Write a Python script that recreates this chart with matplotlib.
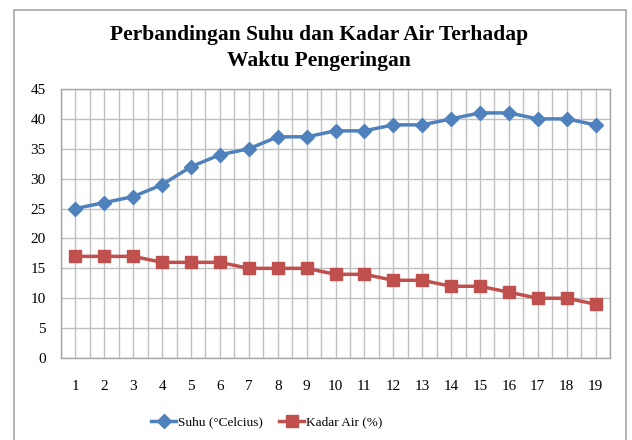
import matplotlib
matplotlib.use("Agg")
import matplotlib.pyplot as plt
from matplotlib.patches import Rectangle
import numpy as np

waktu = list(range(1, 20))
suhu = [25, 26, 27, 29, 32, 34, 35, 37, 37, 38, 38, 39, 39, 40, 41, 41, 40, 40, 39]
kadar_air = [17, 17, 17, 16, 16, 16, 15, 15, 15, 14, 14, 13, 13, 12, 12, 11, 10, 10, 9]
title = "Perbandingan Suhu dan Kadar Air Terhadap\nWaktu Pengeringan"
label_suhu = "Suhu (°Celcius)"
label_kadar = "Kadar Air (%)"

plt.rcParams['font.family'] = ['Liberation Serif', 'DejaVu Serif']

W, H = 632, 440
fig = plt.figure(figsize=(W / 100, H / 100), dpi=100)
fig.patch.set_facecolor('white')

# outer chart border
fig.patches.append(Rectangle((14 / W, -0.05), (626 - 14) / W, (H - 10) / H + 0.05,
                             transform=fig.transFigure, fill=False,
                             edgecolor='#a6a6a6', linewidth=1.2))

left, right, top, bottom = 61, 610, 89, 358
ax = fig.add_axes([left / W, 1 - bottom / H, (right - left) / W, (bottom - top) / H])

ax.plot(waktu, suhu, color='#4F81BD', lw=2.5, marker='D', ms=7, label=label_suhu, zorder=3)
ax.plot(waktu, kadar_air, color='#C0504D', lw=2.5, marker='s', ms=8, label=label_kadar, zorder=3)

ax.set_xlim(0.5, 19.5)
ax.set_ylim(0, 45)
ax.set_yticks(np.arange(0, 46, 5))
ax.set_xticks(waktu)
ax.set_xticks(np.arange(0.5, 19.6, 1), minor=True)
ax.grid(True, which='major', axis='both', color='#c0c0c0', lw=1)
ax.grid(True, which='minor', axis='x', color='#c0c0c0', lw=1)
ax.set_axisbelow(True)
ax.tick_params(which='both', length=0)
ax.tick_params(axis='y', pad=11, labelsize=11)
ax.tick_params(axis='x', pad=16, labelsize=11)
for s in ax.spines.values():
    s.set_color('#a6a6a6')
    s.set_linewidth(1)

fig.text(0.5 * (108 + 530) / W, 1 - 48 / H, title, ha='center', va='center',
         fontsize=15.5, fontweight='bold', linespacing=1.35)

fig.legend(loc='center', bbox_to_anchor=(267 / W, 1 - 422 / H), ncol=2, frameon=False,
           fontsize=9.5, handlelength=1.9, columnspacing=1.2, handletextpad=0.15)

fig.savefig('out.png', dpi=100)
